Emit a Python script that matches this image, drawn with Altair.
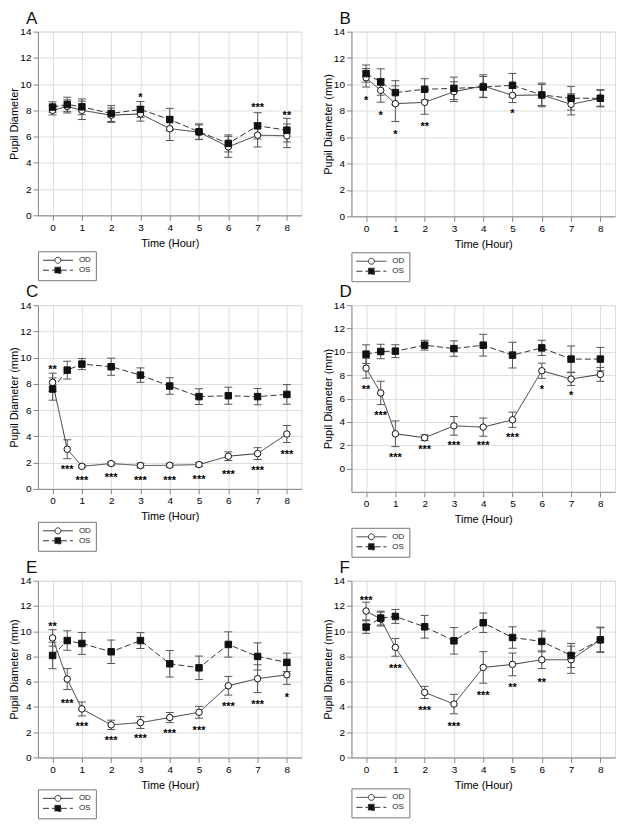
import altair as alt
import pandas as pd

FONT = "Liberation Sans"
hours = [0, 0.5, 1, 2, 3, 4, 5, 6, 7, 8]
series_names = ["OD", "OS"]

# ---- Panel A ----
a_od = [8.0, 8.3, 8.0, 7.63, 7.73, 6.6, 6.34, 5.22, 6.11, 6.06]
a_od_err = [0.35, 0.5, 0.7, 0.55, 0.55, 0.9, 0.55, 0.8, 0.9, 0.9]
a_os = [8.25, 8.45, 8.27, 7.76, 8.07, 7.3, 6.37, 5.48, 6.82, 6.49]
a_os_err = [0.4, 0.55, 0.6, 0.6, 0.6, 0.85, 0.6, 0.65, 1.0, 0.9]
a_star_x = [3, 7, 8]
a_star_y = [9.28, 8.5, 7.9]
a_star_t = ["*", "***", "**"]

# ---- Panel B ----
b_od = [10.5, 9.55, 8.54, 8.64, 9.45, 9.88, 9.17, 9.2, 8.49, 8.95]
b_od_err = [0.7, 0.9, 1.35, 0.9, 0.75, 0.85, 0.55, 0.9, 0.8, 0.65]
b_os = [10.82, 10.18, 9.38, 9.63, 9.7, 9.8, 9.93, 9.2, 8.95, 8.95]
b_os_err = [0.65, 1.0, 0.9, 0.8, 0.85, 0.8, 0.9, 0.8, 0.9, 0.6]
b_star_x = [0, 0.5, 1, 2, 5]
b_star_y = [9.05, 7.93, 6.47, 7.1, 8.04]
b_star_t = ["*", "*", "*", "**", "*"]

# ---- Panel C ----
c_od = [8.12, 3.02, 1.72, 1.93, 1.78, 1.8, 1.85, 2.49, 2.69, 4.18]
c_od_err = [0.7, 0.72, 0.1, 0.12, 0.18, 0.15, 0.15, 0.33, 0.45, 0.65]
c_os = [7.61, 9.05, 9.51, 9.31, 8.67, 7.84, 7.03, 7.1, 7.03, 7.2]
c_os_err = [0.85, 0.68, 0.42, 0.65, 0.55, 0.63, 0.6, 0.65, 0.62, 0.75]
c_star_x = [0, 0.5, 1, 2, 3, 4, 5, 6, 7, 8]
c_star_y = [9.36, 1.78, 0.91, 1.12, 0.91, 0.91, 1.01, 1.39, 1.67, 2.89]
c_star_t = ["**", "***", "***", "***", "***", "***", "***", "***", "***", "***"]

# ---- Panel D ----
d_od = [8.6, 6.48, 2.98, 2.64, 3.66, 3.55, 4.18, 8.38, 7.67, 8.07]
d_od_err = [0.85, 1.0, 1.1, 0.25, 0.8, 0.78, 0.65, 0.65, 0.55, 0.6]
d_os = [9.8, 10.03, 10.06, 10.57, 10.28, 10.57, 9.72, 10.34, 9.38, 9.38]
d_os_err = [0.8, 0.62, 0.55, 0.42, 0.66, 0.93, 1.1, 0.65, 1.12, 1.0]
d_star_x = [0, 0.5, 1, 2, 3, 4, 5, 6, 7]
d_star_y = [7.1, 4.83, 1.28, 1.9, 2.3, 2.24, 2.93, 7.1, 6.53]
d_star_t = ["**", "***", "***", "***", "***", "***", "***", "*", "*"]

# ---- Panel E ----
e_od = [9.47, 6.21, 3.84, 2.58, 2.76, 3.16, 3.58, 5.68, 6.24, 6.55]
e_od_err = [0.65, 0.83, 0.55, 0.37, 0.47, 0.4, 0.47, 0.74, 1.1, 0.76]
e_os = [8.08, 9.26, 9.03, 8.37, 9.26, 7.42, 7.1, 8.95, 8.0, 7.53]
e_os_err = [1.05, 0.77, 0.87, 0.93, 0.63, 1.05, 0.93, 1.0, 1.08, 0.73]
e_star_x = [0, 0.5, 1, 2, 3, 4, 5, 6, 7, 8]
e_star_y = [10.66, 4.58, 2.76, 1.63, 1.76, 2.21, 2.39, 4.32, 4.45, 5.05]
e_star_t = ["**", "***", "***", "***", "***", "***", "***", "***", "***", "*"]

# ---- Panel F ----
f_od = [11.6, 10.96, 8.72, 5.15, 4.23, 7.13, 7.37, 7.74, 7.74, 9.32]
f_od_err = [0.7, 0.55, 0.7, 0.48, 0.77, 1.25, 0.9, 0.7, 1.08, 0.95]
f_os = [10.33, 11.04, 11.17, 10.35, 9.24, 10.67, 9.5, 9.19, 8.08, 9.32]
f_os_err = [0.5, 0.55, 0.55, 0.9, 1.05, 0.77, 0.85, 0.83, 0.95, 1.0]
f_star_x = [0, 1, 2, 3, 4, 5, 6]
f_star_y = [12.73, 7.32, 4.01, 2.72, 5.2, 5.78, 6.23]
f_star_t = ["***", "***", "***", "***", "***", "**", "**"]

# legend symbols: line through a marker
OD_PATH = "M-5,0H-1M1,0H5M1,0A1,1,0,1,1,-1,0A1,1,0,1,1,1,0Z"
OS_PATH = "M-5,0H-1M1,0H5M-1,-1H1V1H-1Z"


def make_df(od, od_err, os_, os_err):
    rows = []
    for name, means, errs in (("OD", od, od_err), ("OS", os_, os_err)):
        for t, m, e in zip(hours, means, errs):
            rows.append({"t": t, "series": name, "mean": m, "lo": m - e, "hi": m + e})
    return pd.DataFrame(rows)


def panel(letter, ytitle, od, od_err, os_, os_err, sx, sy, st, height, legend_y, ymin=0):
    df = make_df(od, od_err, os_, os_err)
    sdf = pd.DataFrame({"t": sx, "y": sy, "txt": st})
    xscale = alt.Scale(domain=[-0.5, 8.5], nice=False, zero=False)
    yscale = alt.Scale(domain=[ymin, 14], nice=False, zero=False)
    xaxis = alt.Axis(values=list(range(9)), title="Time (Hour)", format="d",
                     titleFontWeight="normal", titlePadding=5)
    yaxis = alt.Axis(values=list(range(0, 15, 2)), title=ytitle,
                     titleFontWeight="normal", titlePadding=0)

    def X():
        return alt.X("t:Q", scale=xscale, axis=xaxis)

    def Y(field):
        return alt.Y(field, type="quantitative", scale=yscale, axis=yaxis)

    legend = alt.Legend(
        title=None, orient="none", legendX=0, legendY=height + legend_y,
        direction="vertical", strokeColor="#777", fillColor="white", padding=5,
        labelFont=FONT, labelFontSize=8, labelColor="#222",
        symbolSize=36, symbolOffset=11, labelOffset=17, rowPadding=0,
        symbolStrokeWidth=1, symbolOpacity=1,
    )
    dash_scale = alt.Scale(domain=series_names, range=[[1, 0], [6, 3]])

    base = alt.Chart(df)
    bars = base.mark_rule(color="#555", strokeWidth=1).encode(
        x=X(), y=Y("lo"), y2=alt.Y2("hi"))
    cap_hi = base.mark_rule(color="#555", strokeWidth=1, xOffset=-4, x2Offset=4).encode(
        x=X(), x2=alt.X2("t"), y=Y("hi"))
    cap_lo = base.mark_rule(color="#555", strokeWidth=1, xOffset=-4, x2Offset=4).encode(
        x=X(), x2=alt.X2("t"), y=Y("lo"))
    line = base.mark_line(color="#333", strokeWidth=1).encode(
        x=X(), y=Y("mean"),
        strokeDash=alt.StrokeDash("series:N", scale=dash_scale, legend=legend),
    )
    pts_od = base.transform_filter("datum.series === 'OD'").mark_point(
        shape="circle", filled=True, fill="white", size=42, stroke="#111", strokeWidth=1, opacity=1
    ).encode(x=X(), y=Y("mean"))
    pts_os = base.transform_filter("datum.series === 'OS'").mark_point(
        shape="square", filled=True, fill="#111", size=42, stroke="#111", strokeWidth=1, opacity=1
    ).encode(x=X(), y=Y("mean"))
    # empty layer that only supplies the legend symbols
    leg = base.transform_filter("datum.t < -100").mark_point(
        filled=True, strokeWidth=1
    ).encode(
        x=X(), y=Y("mean"),
        shape=alt.Shape("series:N", scale=alt.Scale(domain=series_names, range=[OD_PATH, OS_PATH]), legend=legend),
        fill=alt.Fill("series:N", scale=alt.Scale(domain=series_names, range=["white", "#111"]), legend=legend),
        stroke=alt.Stroke("series:N", scale=alt.Scale(domain=series_names, range=["#333", "#333"]), legend=legend),
        strokeDash=alt.StrokeDash("series:N", scale=dash_scale, legend=legend),
    )
    stars = alt.Chart(sdf).mark_text(font=FONT, fontSize=11, fontWeight="bold", baseline="alphabetic",
                                     dy=7, color="#000").encode(
        x=X(), y=Y("y"), text="txt:N")
    return alt.layer(bars, cap_hi, cap_lo, line, pts_od, pts_os, leg, stars).properties(
        width=264, height=height,
        title=alt.TitleParams(letter, anchor="start", frame="group", dx=-12, fontSize=17, font=FONT,
                              fontWeight="normal", color="#111", offset=-1),
    )


pA = panel("A", "Pupil Diameter", a_od, a_od_err, a_os, a_os_err, a_star_x, a_star_y, a_star_t, 184, 36)
pB = panel("B", "Pupil Diameter (mm)", b_od, b_od_err, b_os, b_os_err, b_star_x, b_star_y, b_star_t, 185, 36)
pC = panel("C", "Pupil Diameter (mm)", c_od, c_od_err, c_os, c_os_err, c_star_x, c_star_y, c_star_t, 184, 33)
pD = panel("D", "Pupil Diameter (mm)", d_od, d_od_err, d_os, d_os_err, d_star_x, d_star_y, d_star_t, 187, 36, ymin=-2)
pE = panel("E", "Pupil Diameter (mm)", e_od, e_od_err, e_os, e_os_err, e_star_x, e_star_y, e_star_t, 177, 32)
pF = panel("F", "Pupil Diameter (mm)", f_od, f_od_err, f_os, f_os_err, f_star_x, f_star_y, f_star_t, 177, 31)


def row(l, r):
    return alt.hconcat(l, r, spacing=19).resolve_scale(
        strokeDash="independent", shape="independent", fill="independent", stroke="independent")


chart = alt.vconcat(
    row(pA, pB), row(pC, pD), row(pE, pF), spacing=0,
).resolve_scale(
    strokeDash="independent", shape="independent", fill="independent", stroke="independent"
).properties(
    padding=0
).configure_view(
    stroke="#777", strokeWidth=1
).configure_axis(
    labelFont=FONT, labelFontSize=8, labelColor="#333", labelPadding=2,
    titleFont=FONT, titleFontSize=10, titleFontWeight="normal", titleColor="#222",
    tickColor="#777", tickSize=4, domainColor="#777", grid=False,
).configure(background="white")

chart.save("out.html", embed_options={"renderer": "svg", "actions": False})
